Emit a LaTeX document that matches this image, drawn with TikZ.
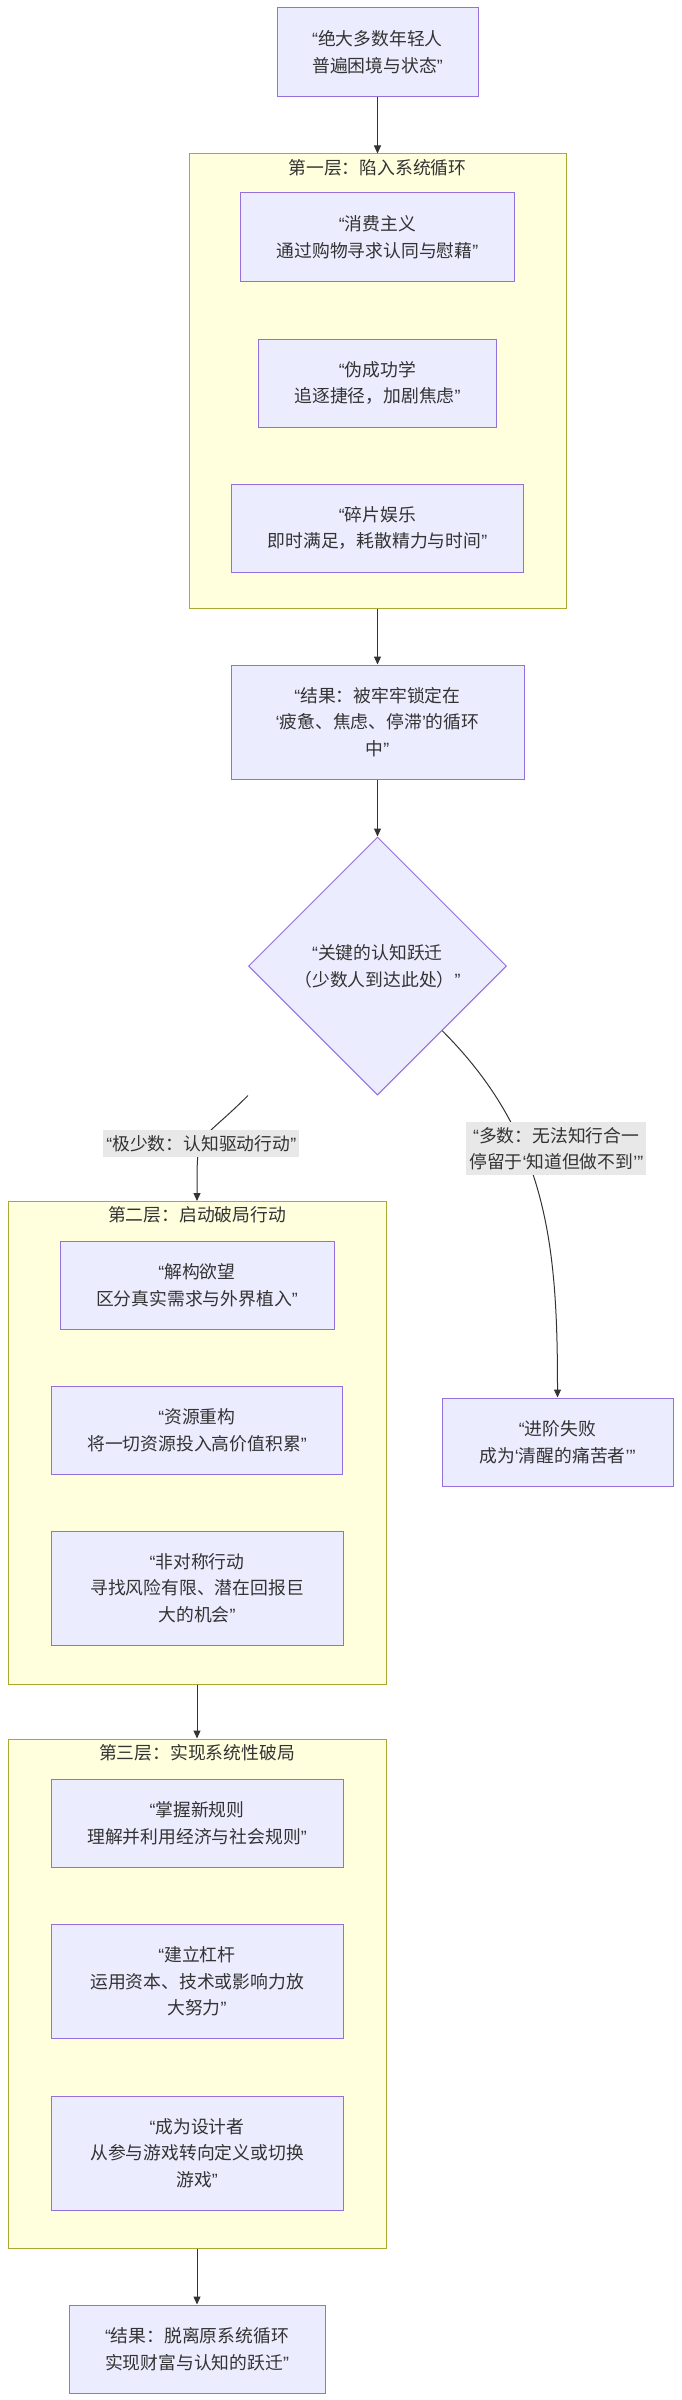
\documentclass[tikz,border=0pt]{standalone}
\usepackage{fontspec}
\setmainfont{Noto Sans CJK SC}
\newfontfamily\quotefont{Liberation Sans}
\usetikzlibrary{positioning,shapes.geometric,arrows.meta}

\definecolor{boxfill}{HTML}{ECECFF}
\definecolor{boxline}{HTML}{9370DB}
\definecolor{layerfill}{HTML}{FFFFDE}
\definecolor{layerline}{HTML}{AAAA33}
\definecolor{labelfill}{HTML}{E8E8E8}
\definecolor{ink}{HTML}{333333}

\newcommand{\dquote}[1]{{\quotefont “}#1{\quotefont ”}}
\newcommand{\squote}[1]{{\quotefont ‘}#1{\quotefont ’}}

\begin{document}
\begin{tikzpicture}[x=1pt,y=1pt,>={Triangle[length=8pt,width=7pt]},line width=1pt,
  font=\fontsize{17.8pt}{26.7pt}\selectfont,text=ink,
  main node/.style={rectangle,draw=boxline,fill=boxfill,align=center,minimum height=88pt,inner sep=2pt},
  tall node/.style={main node,minimum height=114pt},
  layer node/.style={rectangle,draw=layerline,fill=layerfill,minimum width=378pt,inner sep=0pt},
  layer title/.style={inner sep=0pt},
  choice node/.style={diamond,draw=boxline,fill=boxfill,align=center,minimum width=258pt,minimum height=258pt,inner sep=0pt},
  edge label/.style={fill=labelfill,align=center,inner xsep=3pt,inner ysep=5pt}]
    \useasboundingbox (0,0) rectangle (682,-2400);

    \node[main node,minimum width=201pt,minimum height=89pt] (top) at (377.5,-52.5) {\dquote{绝大多数年轻人\\普遍困境与状态}};

    % first layer
    \node[layer node,minimum width=377pt,minimum height=454pt] (l1) [below=56pt of top] {};
    \node[layer title] (t1) at ([yshift=-14pt]l1.north) {第一层：陷入系统循环};
    \node[main node,minimum width=274pt] (buy) [below=39pt of l1.north] {\dquote{消费主义\\通过购物寻求认同与慰藉}};
    \node[main node,minimum width=238pt] (fake) [below=57pt of buy] {\dquote{伪成功学\\追逐捷径，加剧焦虑}};
    \node[main node,minimum width=292pt] (frag) [below=56pt of fake] {\dquote{碎片娱乐\\即时满足，耗散精力与时间}};

    \node[tall node,minimum width=293pt] (trap) [below=56pt of l1] {\dquote{结果：被牢牢锁定在\\\squote{疲惫、焦虑、停滞}的循环\\中}};
    \node[choice node] (jump) [below=57pt of trap] {\dquote{关键的认知跃迁\\（少数人到达此处）}};

    \node[main node,minimum width=231pt] (fail) at (557.5,-1442) {\dquote{进阶失败\\成为\squote{清醒的痛苦者}}};

    % second layer
    \node[layer node,minimum height=482.5pt] (l2) at (197,-1442.75) {};
    \node[layer title] (t2) at ([yshift=-14pt]l2.north) {第二层：启动破局行动};
    \node[main node,minimum width=274pt] (want) [below=39.5pt of l2.north] {\dquote{解构欲望\\区分真实需求与外界植入}};
    \node[main node,minimum width=291pt] (res) [below=56pt of want] {\dquote{资源重构\\将一切资源投入高价值积累}};
    \node[tall node,minimum width=292pt] (asym) [below=56pt of res] {\dquote{非对称行动\\寻找风险有限、潜在回报巨\\大的机会}};

    % third layer
    \node[layer node,minimum height=509pt] (l3) [below=54pt of l2] {};
    \node[layer title] (t3) at ([yshift=-14pt]l3.north) {第三层：实现系统性破局};
    \node[main node,minimum width=292pt] (rule) [below=40.5pt of l3.north] {\dquote{掌握新规则\\理解并利用经济与社会规则}};
    \node[tall node,minimum width=292pt] (lever) [below=56pt of rule] {\dquote{建立杠杆\\运用资本、技术或影响力放\\大努力}};
    \node[tall node,minimum width=292pt] (design) [below=56.5pt of lever] {\dquote{成为设计者\\从参与游戏转向定义或切换\\游戏}};

    \node[main node,minimum width=256pt] (final) [below=56pt of l3] {\dquote{结果：脱离原系统循环\\实现财富与认知的跃迁}};

    \coordinate (few) at (jump.west |- jump.south);

    \path[->,ink,every node/.style={edge label}]
        (top) edge (l1)
        (l1) edge (trap)
        (trap) edge (jump)
        (few) edge [out=-135,in=90,looseness=1.6] node[pos=.55] {\dquote{极少数：认知驱动行动}} (l2)
        (jump.south east) edge [out=-45,in=90] node[pos=.36,xshift=33pt] {\dquote{多数：无法知行合一\\停留于\squote{知道但做不到}}} (fail)
        (l2) edge (l3)
        (l3) edge (final)
    ;
\end{tikzpicture}
\end{document}
